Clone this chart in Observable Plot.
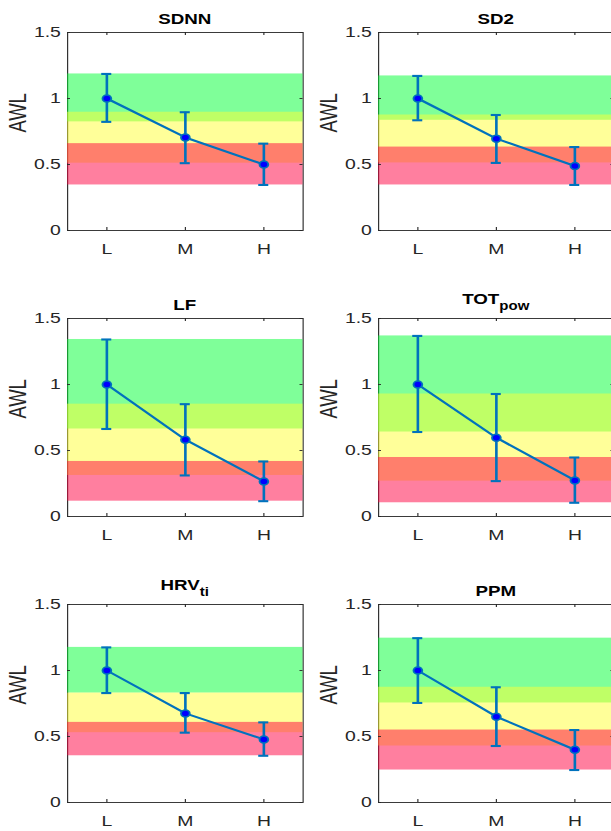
<!DOCTYPE html>
<html>
<head>
<meta charset="utf-8">
<script src="https://cdn.jsdelivr.net/npm/d3@7"></script>
<script src="https://cdn.jsdelivr.net/npm/@observablehq/plot@0.6"></script>
<style>
  html, body { margin: 0; padding: 0; background: #fff; width: 611px; height: 831px; overflow: hidden; }
  #root { position: relative; width: 611px; height: 831px; overflow: hidden; }
  .panel { position: absolute; transform-origin: 0 0; }
  .ttl { position: absolute; text-align: center; font-family: "Liberation Sans", Arial, Helvetica, sans-serif;
         font-weight: bold; font-size: 15px; line-height: 1; color: #000; white-space: nowrap; }
  .ttl sub { font-size: 0.8em; vertical-align: -0.5em; line-height: 1; }
</style>
</head>
<body>
<div id="root"></div>
<script>
// ---- data ----
const categories = ["L", "M", "H"];
const yTicks = [0, 0.5, 1, 1.5];
const bandColors = ["#00ff33", "#ffff33", "#ff0040"]; // L, M, H interval bands (drawn half transparent)

const titles = ["SDNN", "SD2", "LF", "TOT<sub>pow</sub>", "HRV<sub>ti</sub>", "PPM"];

const SDNN_mean = [1.0, 0.705, 0.50];
const SDNN_low  = [0.823, 0.510, 0.345];
const SDNN_high = [1.186, 0.896, 0.658];

const SD2_mean = [1.0, 0.696, 0.488];
const SD2_low  = [0.835, 0.512, 0.345];
const SD2_high = [1.171, 0.875, 0.632];

const LF_mean = [1.0, 0.582, 0.266];
const LF_low  = [0.663, 0.311, 0.116];
const LF_high = [1.341, 0.851, 0.417];

const TOT_mean = [1.0, 0.597, 0.273];
const TOT_low  = [0.640, 0.268, 0.104];
const TOT_high = [1.368, 0.928, 0.447];

const HRV_mean = [1.0, 0.675, 0.478];
const HRV_low  = [0.829, 0.529, 0.354];
const HRV_high = [1.175, 0.829, 0.607];

const PPM_mean = [1.0, 0.650, 0.400];
const PPM_low  = [0.754, 0.428, 0.246];
const PPM_high = [1.245, 0.873, 0.549];

const series = [
  [SDNN_mean, SDNN_low, SDNN_high],
  [SD2_mean, SD2_low, SD2_high],
  [LF_mean, LF_low, LF_high],
  [TOT_mean, TOT_low, TOT_high],
  [HRV_mean, HRV_low, HRV_high],
  [PPM_mean, PPM_low, PPM_high]
];

// ---- layout ----
const S = 1.25;            // horizontal stretch of the whole figure
const PW = 250, PH = 260;
const ML = 53.6, MR = 8, MT = 32, MB = 30;
const AW = PW - ML - MR, AH = PH - MT - MB;
const colLeft = [0, 311], rowTop = [0, 286, 572];
const blue = "#0072BD";
const ink = "#262626";
const font = '"Liberation Sans", Arial, Helvetica, sans-serif';
const cap = 0.064;

const root = document.getElementById("root");

series.forEach(([mean, low, high], k) => {
  const data = categories.map((c, i) => ({i: i + 1, c, mean: mean[i], low: low[i], high: high[i], color: bandColors[i]}));
  const xTicks = categories.map((c, i) => i + 1);

  const plot = Plot.plot({
    width: PW, height: PH,
    marginLeft: ML, marginRight: MR, marginTop: MT, marginBottom: MB,
    style: {fontFamily: font, fontSize: "15px", color: ink, background: "transparent", overflow: "visible"},
    x: {type: "linear", domain: [0.5, 3.5]},
    y: {type: "linear", domain: [0, 1.5]},
    color: {type: "identity"},
    marks: [
      Plot.frame({stroke: ink, strokeWidth: 0.9}),
      Plot.rect(data, {y1: "low", y2: "high", fill: "color", fillOpacity: 0.5}),
      Plot.ruleY(yTicks, {stroke: ink, strokeWidth: 0.9, insetRight: AW - 2.4}),
      Plot.ruleY(yTicks, {stroke: ink, strokeWidth: 0.9, insetLeft: AW - 2.4}),
      Plot.ruleX(xTicks, {stroke: ink, strokeWidth: 0.9, insetTop: AH - 3}),
      Plot.ruleX(xTicks, {stroke: ink, strokeWidth: 0.9, insetBottom: AH - 3}),
      Plot.axisY(yTicks, {tickSize: 0, tickPadding: 5.4, tickFormat: d => String(d), fontSize: 15.5, fill: ink, label: null}),
      Plot.axisX(xTicks, {tickSize: 0, tickPadding: 12, tickFormat: d => categories[d - 1], fontSize: 15.5, fill: ink, label: null}),
      Plot.text(["AWL"], {frameAnchor: "left", rotate: -90, dx: -39.6, dy: 1, fontSize: 18.5, fill: ink}),
      Plot.ruleX(data, {x: "i", y1: "low", y2: "high", stroke: blue, strokeWidth: 2.1}),
      Plot.ruleY(data, {y: "high", x1: d => d.i - cap, x2: d => d.i + cap, stroke: blue, strokeWidth: 2.1}),
      Plot.ruleY(data, {y: "low", x1: d => d.i - cap, x2: d => d.i + cap, stroke: blue, strokeWidth: 2.1}),
      Plot.line(data, {x: "i", y: "mean", stroke: blue, strokeWidth: 2.1}),
      Plot.dot(data, {x: "i", y: "mean", r: 3.5, fill: "#0000ff", stroke: blue, strokeWidth: 1.5})
    ]
  });

  const panel = document.createElement("div");
  panel.className = "panel";
  panel.style.left = colLeft[k % 2] + "px";
  panel.style.top = rowTop[Math.floor(k / 2)] + "px";
  panel.style.width = PW + "px";
  panel.style.height = PH + "px";
  panel.style.transform = `scaleX(${S})`;

  const t = document.createElement("div");
  t.className = "ttl";
  t.style.left = ML + "px";
  t.style.width = AW + "px";
  t.style.bottom = (PH - MT + 5.7) + "px";
  t.innerHTML = titles[k];

  panel.appendChild(plot);
  panel.appendChild(t);
  root.appendChild(panel);
});
</script>
</body>
</html>
